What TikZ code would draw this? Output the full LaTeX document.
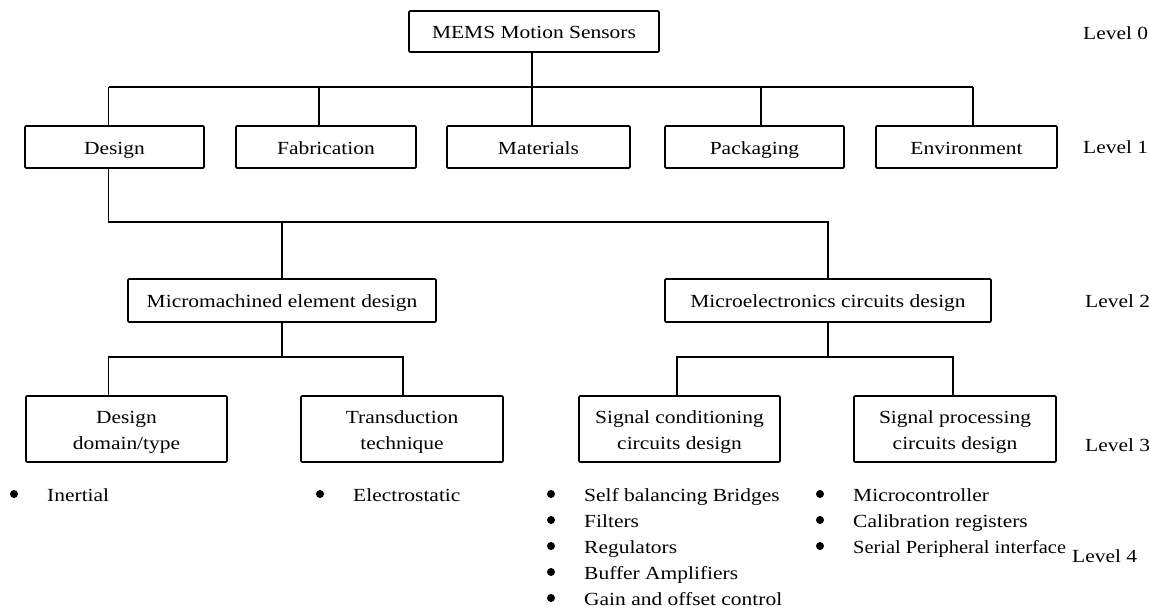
\documentclass[tikz,border=0pt]{standalone}
\usepackage{fontspec}
\setmainfont{Liberation Serif}[FakeStretch=1.16]
\newcommand\twoline[2]{\raisebox{-2pt}[\height][\depth]{\begin{tabular}{@{}c@{}}#1\\#2\end{tabular}}}
\begin{document}
\begin{tikzpicture}[x=1pt,y=-1pt,
  every node/.style={font=\fontsize{18.5}{26}\selectfont},
  box/.style={draw,line width=1.6pt,rounded corners=1pt,inner sep=0pt,text height=14pt,text depth=0pt},
  box2/.style={draw,line width=1.6pt,rounded corners=1pt,inner sep=0pt},
  lvl/.style={anchor=west,inner sep=0pt,text height=14pt,text depth=0pt},
  item/.style={anchor=west,inner sep=0pt,text height=14pt,text depth=0pt},
  conn/.style={line width=1.6pt},
  dot/.style={circle,fill,inner sep=0pt,minimum size=8pt}]
\useasboundingbox (0,0) rectangle (1150,608);
% level 0
\node[box,minimum width=250pt,minimum height=41pt] (root) at (534,31.5) {MEMS Motion Sensors};
% level 1
\node[box,minimum width=179pt,minimum height=42pt] (des) at (114.5,147) {Design};
\node[box,minimum width=180pt,minimum height=42pt] (fab) at (326,147) {Fabrication};
\node[box,minimum width=183pt,minimum height=42pt] (mat) at (538.5,147) {Materials};
\node[box,minimum width=179pt,minimum height=42pt] (pkg) at (754.5,147) {Packaging};
\node[box,minimum width=181pt,minimum height=42pt] (env) at (966.5,147) {Environment};
% level 2
\node[box,minimum width=308pt,minimum height=43pt] (mme) at (282,300.5) {Micromachined element design};
\node[box,minimum width=326pt,minimum height=43pt] (mec) at (828,300.5) {Microelectronics circuits design};
% level 3
\node[box2,minimum width=201pt,minimum height=66pt] (ddt) at (126.5,429) {\twoline{Design}{domain/type}};
\node[box2,minimum width=202pt,minimum height=66pt] (trt) at (402,429) {\twoline{Transduction}{technique}};
\node[box2,minimum width=201pt,minimum height=66pt] (scc) at (679.5,429) {\twoline{Signal conditioning}{circuits design}};
\node[box2,minimum width=202pt,minimum height=66pt] (spc) at (955,429) {\twoline{Signal processing}{circuits design}};
% level labels
\node[lvl] (l0) at (1083,32) {Level 0};
\node[lvl] (l1) at (1083,146) {Level 1};
\node[lvl] (l2) at (1085,300) {Level 2};
\node[lvl] (l3) at (1085,444) {Level 3};
\node[lvl] (l4) at (1072,555) {Level 4};
% bus coordinates
\coordinate (a1) at (108.5,87);
\coordinate (a2) at (319,87);
\coordinate (a3) at (532,87);
\coordinate (a4) at (761,87);
\coordinate (a5) at (973,87);
\coordinate (b1) at (108.5,222);
\coordinate (b2) at (282,222);
\coordinate (b3) at (828,222);
\coordinate (c1) at (108.5,357);
\coordinate (c2) at (282,357);
\coordinate (c3) at (403,357);
\coordinate (c4) at (677,357);
\coordinate (c5) at (828,357);
\coordinate (c6) at (953,357);
% connectors level 0-1
\draw[conn] (root.south -| a3) -- (a3);
\draw[conn] (a1) -- (a5);
\draw[conn] (a1) -- (a1 |- des.north);
\draw[conn] (a2) -- (a2 |- fab.north);
\draw[conn] (a3) -- (a3 |- mat.north);
\draw[conn] (a4) -- (a4 |- pkg.north);
\draw[conn] (a5) -- (a5 |- env.north);
% design to level 2
\draw[conn] (des.south -| b1) -- (b1) -- (b3) -- (mec.north);
\draw[conn] (b2) -- (mme.north);
% level 2 to level 3
\draw[conn] (mme.south) -- (c2);
\draw[conn] (c1 |- ddt.north) -- (c1) -- (c3) -- (c3 |- trt.north);
\draw[conn] (mec.south) -- (c5);
\draw[conn] (c4 |- scc.north) -- (c4) -- (c6) -- (c6 |- spc.north);
% level 4 items
\node[dot] (p1) at (14,494) {};
\node[item] (t1) at (47,494) {Inertial};
\node[dot] (p2) at (320,494) {};
\node[item] (t2) at (353,494) {Electrostatic};
\node[dot] (p3) at (551,494) {};
\node[item] (t3a) at (584,494) {Self balancing Bridges};
\node[dot] (p4) at (551,520) {};
\node[item] (t3b) at (584,520) {Filters};
\node[dot] (p5) at (551,546) {};
\node[item] (t3c) at (584,546) {Regulators};
\node[dot] (p6) at (551,572) {};
\node[item] (t3d) at (584,572) {Buffer Amplifiers};
\node[dot] (p7) at (551,598) {};
\node[item] (t3e) at (584,598) {Gain and offset control};
\node[dot] (p8) at (820,494) {};
\node[item] (t4a) at (853,494) {Microcontroller};
\node[dot] (p9) at (820,520) {};
\node[item] (t4b) at (853,520) {Calibration registers};
\node[dot] (p10) at (820,546) {};
\node[item] (t4c) at (853,546) {\scalebox{0.95}[1]{Serial Peripheral interface}};
\end{tikzpicture}
\end{document}
